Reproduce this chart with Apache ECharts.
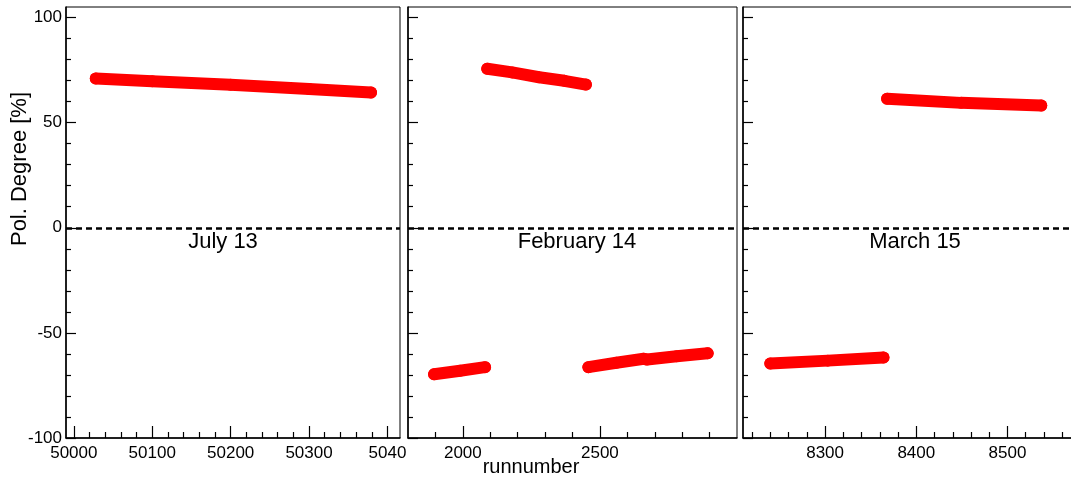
<!DOCTYPE html>
<html>
<head>
<meta charset="utf-8">
<script src="https://cdn.jsdelivr.net/npm/echarts@6/dist/echarts.min.js"></script>
<style>
html,body{margin:0;padding:0;background:#fff;overflow:hidden;}
#chart{width:1071px;height:482px;}
</style>
</head>
<body>
<div id="chart"></div>
<script>
// ---------- data ----------
const panelNames = ['July 13', 'February 14', 'March 15'];
const yTickValues = [-100, -50, 0, 50, 100];
const yMinorValues = [-90, -80, -70, -60, -40, -30, -20, -10, 10, 20, 30, 40, 60, 70, 80, 90];

// Panel 1 (July 13)
const p1Range = [49990, 50416];
const p1TickValues = [50000, 50100, 50200, 50300, 50400];
const p1TickLabels = ['50000', '50100', '50200', '50300', '5040'];
const p1MinorValues = [50020, 50040, 50060, 50080, 50120, 50140, 50160, 50180, 50220, 50240, 50260, 50280, 50320, 50340, 50360, 50380];
const p1aX = [50028, 50100, 50200, 50300, 50379];
const p1aY = [71.0, 69.7, 68.0, 66.0, 64.3];

// Panel 2 (February 14)
const p2Range = [1800, 3000];
const p2TickValues = [2000, 2500];
const p2TickLabels = ['2000', '2500'];
const p2MinorValues = [1900, 2100, 2200, 2300, 2400, 2600, 2700, 2800, 2900];
const p2aX = [2089, 2180, 2278, 2370, 2449];
const p2aY = [75.6, 73.9, 71.6, 69.9, 68.1];
const p2bX = [1895, 1990, 2081];
const p2bY = [-69.7, -68.0, -66.3];
const p2cX = [2458, 2560, 2660, 2672, 2780, 2893];
const p2cY = [-66.3, -64.2, -62.3, -62.7, -61.1, -59.7];

// Panel 3 (March 15)
const p3Range = [8210, 8574];
const p3TickValues = [8300, 8400, 8500];
const p3TickLabels = ['8300', '8400', '8500'];
const p3MinorValues = [8220, 8240, 8260, 8280, 8320, 8340, 8360, 8380, 8420, 8440, 8460, 8480, 8520, 8540, 8560];
const p3aX = [8368, 8449, 8537];
const p3aY = [61.4, 59.4, 58.1];
const p3bX = [8240, 8303, 8364];
const p3bY = [-64.6, -63.2, -61.7];

// ---------- build ----------
const FONT = 'Liberation Sans, Arial, sans-serif';
const zip = (xs, ys) => xs.map((x, i) => [x, ys[i]]);

const panels = [
  {range: p1Range, ticks: p1TickValues, labels: p1TickLabels, minors: p1MinorValues,
   segs: [zip(p1aX, p1aY)], grid: {left: 66, top: 7, width: 334, height: 431}, showY: true, title: [223, 242]},
  {range: p2Range, ticks: p2TickValues, labels: p2TickLabels, minors: p2MinorValues,
   segs: [zip(p2aX, p2aY), zip(p2bX, p2bY), zip(p2cX, p2cY)], grid: {left: 408, top: 7, width: 329, height: 431}, showY: false, title: [577, 242]},
  {range: p3Range, ticks: p3TickValues, labels: p3TickLabels, minors: p3MinorValues,
   segs: [zip(p3aX, p3aY), zip(p3bX, p3bY)], grid: {left: 743, top: 7, width: 332, height: 431}, showY: false, title: [915, 242]}
];

const grid = [], xAxis = [], yAxis = [], series = [], graphic = [];
panels.forEach((p, k) => {
  grid.push(Object.assign({show: true, borderColor: '#000', borderWidth: 1, backgroundColor: '#fff',
    containLabel: false, outerBoundsMode: 'none'}, p.grid));
  // main x axis
  xAxis.push({
    type: 'value', gridIndex: k, min: p.range[0], max: p.range[1], position: 'bottom',
    axisLine: {show: true, onZero: false, lineStyle: {color: '#000', width: 1.5}},
    axisTick: {show: true, inside: true, length: 12, customValues: p.ticks, lineStyle: {color: '#000', width: 1.2}},
    axisLabel: {show: true, customValues: p.ticks, margin: 7, color: '#000', fontFamily: FONT, fontSize: 17,
      formatter: (v) => { const i = p.ticks.indexOf(v); return i >= 0 ? p.labels[i] : ''; }},
    splitLine: {show: false}
  });
  // minor x axis
  xAxis.push({
    type: 'value', gridIndex: k, min: p.range[0], max: p.range[1], position: 'bottom',
    axisLine: {show: false, onZero: false},
    axisTick: {show: true, inside: true, length: 6, customValues: p.minors, lineStyle: {color: '#000', width: 1.2}},
    axisLabel: {show: false}, splitLine: {show: false}
  });
  // main y axis
  yAxis.push({
    type: 'value', gridIndex: k, min: -100, max: 105, position: 'left',
    axisLine: {show: true, onZero: false, lineStyle: {color: '#000', width: 1.5}},
    axisTick: {show: true, inside: true, length: 10, customValues: yTickValues, lineStyle: {color: '#000', width: 1.2}},
    axisLabel: {show: p.showY, customValues: yTickValues, margin: 4, color: '#000', fontFamily: FONT, fontSize: 17},
    splitLine: {show: false}
  });
  // minor y axis
  yAxis.push({
    type: 'value', gridIndex: k, min: -100, max: 105, position: 'left',
    axisLine: {show: false, onZero: false},
    axisTick: {show: true, inside: true, length: 5, customValues: yMinorValues, lineStyle: {color: '#000', width: 1.2}},
    axisLabel: {show: false}, splitLine: {show: false}
  });
  p.segs.forEach((d, j) => {
    const s = {
      type: 'line', xAxisIndex: 2 * k, yAxisIndex: 2 * k, data: d,
      symbol: 'circle', symbolSize: 12, itemStyle: {color: '#ff0000'},
      lineStyle: {color: '#ff0000', width: 12, cap: 'round', join: 'round'},
      silent: true, animation: false, z: 3
    };
    if (j === 0) {
      s.markLine = {
        silent: true, symbol: 'none', animation: false,
        label: {show: false},
        lineStyle: {color: '#000', width: 2.5, type: [6, 4]},
        data: [{yAxis: 0}]
      };
    }
    series.push(s);
  });
  graphic.push({
    type: 'text', x: p.title[0], y: p.title[1], z: 10,
    style: {text: panelNames[k], fill: '#000', font: '22px ' + FONT, align: 'center', verticalAlign: 'middle'}
  });
});

graphic.push({
  type: 'text', x: 20, y: 169, rotation: Math.PI / 2, z: 10,
  style: {text: 'Pol. Degree [%]', fill: '#000', font: '22px ' + FONT, align: 'center', verticalAlign: 'middle'}
});
graphic.push({
  type: 'text', x: 531, y: 467, z: 10,
  style: {text: 'runnumber', fill: '#000', font: '20px ' + FONT, align: 'center', verticalAlign: 'middle'}
});

const chart = echarts.init(document.getElementById('chart'), null, {renderer: 'canvas'});
chart.setOption({animation: false, backgroundColor: '#fff', grid, xAxis, yAxis, series, graphic});
</script>
</body>
</html>
